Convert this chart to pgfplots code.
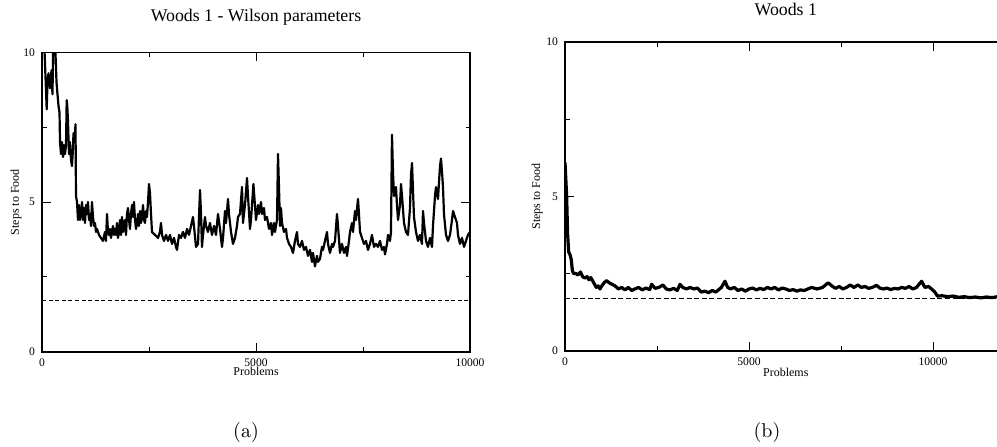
\documentclass[border=0pt]{standalone}
\usepackage{pgfplots}
\pgfplotsset{compat=1.18}
\usepackage{pgfplotstable}
\usepackage{fontspec}
\newfontfamily\tnr{Liberation Serif}

\pgfplotstableread{
x y
0 11
47 10.5
110 8.1
128 9.0
152 9.3
187 8.8
222 9.4
245 8.6
264 10.5
304 10.4
339 9.0
362 8.6
386 8.2
409 8.0
421 7.0
444 6.6
467 7.0
491 6.5
514 6.9
537 6.6
561 6.9
577 8.4
591 8.2
607 7.7
631 6.6
654 7.0
678 6.4
701 6.2
724 6.8
736 7.3
759 7.0
783 7.6
794 5.2
818 5.0
841 4.4
864 4.9
888 4.4
911 4.6
935 5.0
958 4.4
981 4.8
1005 4.3
1028 4.9
1051 4.6
1075 5.0
1098 4.4
1121 4.6
1145 4.2
1168 5.0
1192 4.5
1215 4.2
1238 4.3
1262 4.0
1285 4.1
1332 3.9
1378 3.8
1425 3.7
1472 4.0
1495 3.7
1519 4.6
1542 4.0
1565 3.9
1589 4.1
1612 3.8
1635 4.0
1659 4.2
1682 3.9
1706 4.1
1729 3.9
1752 4.3
1776 3.8
1799 4.0
1822 4.4
1846 3.9
1869 4.5
1892 4.0
1916 4.2
1939 4.4
1963 3.9
1986 4.6
2009 4.8
2033 4.4
2056 4.1
2079 4.6
2103 4.9
2126 4.5
2149 5.0
2173 4.4
2196 4.1
2220 4.3
2243 4.6
2266 4.2
2290 4.7
2313 4.3
2336 4.5
2360 4.9
2383 4.4
2406 4.3
2430 4.7
2453 4.5
2477 5.0
2500 5.6
2523 5.3
2547 4.6
2570 4.0
2640 3.9
2710 3.8
2757 4.0
2780 4.3
2804 3.9
2850 3.7
2897 3.9
2944 3.7
2991 3.9
3037 3.6
3084 3.8
3131 3.5
3154 3.4
3201 3.9
3248 3.8
3294 4.0
3341 3.8
3388 4.1
3435 3.9
3481 4.2
3528 4.5
3551 4.2
3598 3.5
3645 3.6
3668 4.5
3692 5.4
3715 4.6
3738 3.5
3762 3.9
3808 4.5
3832 4.2
3878 4.0
3925 4.3
3972 3.9
4019 4.2
4065 3.9
4112 4.6
4159 4.1
4206 3.5
4229 3.8
4276 4.7
4299 4.3
4346 5.1
4369 4.6
4416 4.0
4463 3.6
4509 3.8
4556 4.2
4579 4.5
4626 4.6
4673 5.5
4696 4.3
4743 4.9
4790 5.8
4813 5.2
4860 4.1
4883 4.4
4940 5.6
5000 4.4
5047 4.9
5070 4.6
5117 5.0
5140 4.6
5187 4.8
5210 4.4
5257 4.5
5304 4.1
5350 4.3
5374 3.9
5420 4.3
5444 4.0
5491 4.4
5514 6.6
5537 5.5
5561 4.2
5584 4.8
5607 4.3
5654 4.0
5701 4.1
5724 3.8
5771 3.6
5818 3.5
5864 3.3
5911 3.7
5958 4.0
5981 3.6
6028 3.5
6075 3.7
6121 3.4
6168 3.5
6215 3.2
6262 3.4
6308 3.0
6332 3.3
6378 2.85
6425 3.2
6448 3.0
6495 3.1
6542 3.5
6565 3.4
6612 3.7
6659 4.0
6682 3.6
6729 3.3
6776 3.6
6799 3.5
6846 3.7
6892 4.6
6916 4.2
6962 3.3
7009 3.6
7056 3.3
7103 3.5
7126 3.2
7173 3.7
7196 4.0
7243 4.3
7266 4.0
7313 4.7
7336 4.4
7383 5.1
7406 4.6
7430 4.0
7476 3.8
7523 3.6
7570 3.7
7617 3.4
7663 3.6
7710 3.9
7757 3.5
7804 3.6
7850 3.5
7897 3.7
7944 3.4
7990 3.5
8014 3.25
8061 3.6
8084 3.9
8131 3.7
8154 4.0
8177 7.25
8201 6.0
8224 5.2
8271 5.5
8294 4.9
8318 4.4
8364 4.9
8388 5.6
8411 5.2
8458 4.3
8504 4.0
8551 3.9
8598 4.8
8621 5.9
8645 6.3
8668 5.4
8691 4.5
8738 4.0
8785 3.7
8832 3.9
8878 3.6
8902 4.7
8925 4.3
8972 3.7
9018 3.5
9065 3.8
9112 3.5
9135 4.2
9182 5.2
9205 5.5
9252 5.1
9299 6.2
9322 6.45
9346 6.0
9369 5.5
9392 4.6
9439 3.9
9486 3.7
9533 3.9
9579 4.4
9603 4.7
9649 4.5
9696 4.3
9719 3.9
9766 3.6
9813 3.8
9860 3.5
9906 3.7
9953 3.9
10000 4.0
}\dataA

\pgfplotstableread{
x y
0 6.1
45 5.0
70 3.8
100 3.2
140 3.1
170 2.95
200 2.6
230 2.5
300 2.5
350 2.45
420 2.55
480 2.4
540 2.35
600 2.4
650 2.3
700 2.37
780 2.2
850 2.05
900 2.1
950 2.0
1000 2.1
1060 2.2
1130 2.27
1200 2.2
1280 2.15
1360 2.1
1450 2.0
1540 2.05
1630 1.97
1720 2.05
1810 1.95
1900 2.0
2000 2.05
2100 1.97
2200 2.03
2300 1.98
2355 2.15
2450 2.02
2550 2.05
2663 2.13
2750 2.0
2850 1.97
2950 2.02
3050 1.95
3125 2.15
3200 2.05
3300 2.0
3400 2.05
3500 2.0
3600 2.03
3700 1.9
3800 1.93
3900 1.88
4000 1.95
4100 1.9
4200 2.0
4250 2.05
4347 2.25
4420 2.05
4500 2.0
4600 2.05
4700 1.95
4800 2.0
4900 1.93
5000 2.0
5100 2.03
5200 1.97
5300 2.02
5400 1.98
5500 2.05
5600 2.0
5700 2.05
5800 1.97
5900 2.03
6000 2.0
6100 1.95
6200 1.98
6300 1.93
6400 1.97
6500 1.95
6600 2.0
6700 2.05
6850 2.0
7000 2.05
7150 2.2
7250 2.1
7350 2.02
7450 2.08
7550 2.0
7650 2.05
7750 2.13
7850 2.05
7960 2.13
8050 2.05
8150 2.08
8250 2.02
8350 2.05
8470 2.12
8550 2.03
8650 2.0
8750 2.03
8850 1.98
8950 2.02
9050 2.0
9150 2.05
9250 2.02
9350 2.08
9450 2.0
9550 2.05
9691 2.25
9780 2.05
9880 2.08
9980 1.98
10050 1.9
10120 1.77
10250 1.78
10400 1.75
10550 1.77
10700 1.73
10850 1.75
11000 1.72
11150 1.74
11300 1.71
11450 1.74
11600 1.72
11750 1.75
11900 1.73
12000 1.74
}\dataB

\begin{document}
\begin{tikzpicture}
\pgfplotsset{
  common/.style={
    scale only axis,
    anchor=south west,
    ymin=0, ymax=10,
    xtick={0,5000,10000}, minor xtick={2500,7500},
    ytick={0,5,10}, minor ytick={2.5,7.5},
    tick align=inside,
    major tick length=4.5pt, minor tick length=2.25pt,
    scaled x ticks=false,
    /pgf/number format/1000 sep={},
    /pgf/number format/assume math mode=true,
    tick label style={font=\tnr\fontsize{5.8}{6}\selectfont},
    label style={font=\tnr\fontsize{6}{7}\selectfont},
    title style={font=\tnr\fontsize{8.9}{10}\selectfont, anchor=center, yshift=-6pt},
    xlabel={Problems}, ylabel={Steps to Food},
    every tick/.style={black},
  }
}
\begin{axis}[common,
  at={(21pt,47.15pt)},
  width=214pt, height=149.7pt,
  xmin=0, xmax=10000,
  axis line style={line width=0.8pt},
  title={Woods 1 - Wilson parameters},
  title style={at={(axis description cs:0.5,1.117)}},
  xlabel style={at={(axis description cs:0.5,-0.067)}, anchor=center},
  ylabel style={at={(axis description cs:-0.061,0.5)}, anchor=center},
]
\addplot[black, line width=1.1pt, line join=round] table[x=x,y=y] {\dataA};
\addplot[black, line width=0.5pt, dash pattern=on 2pt off 1.3pt] coordinates {(0,1.72) (10000,1.72)};
\end{axis}

\begin{axis}[common,
  at={(282.5pt,47.65pt)},
  width=220.8pt, height=154.35pt,
  xmin=0, xmax=12000,
  axis line style={line width=1.2pt},
  title={Woods 1},
  title style={at={(axis description cs:0.5,1.107)}},
  xlabel style={at={(axis description cs:0.5,-0.071)}, anchor=center},
  ylabel style={at={(axis description cs:-0.063,0.5)}, anchor=center},
]
\addplot[black, line width=1.6pt, line join=round] table[x=x,y=y] {\dataB};
\addplot[black, line width=0.5pt, dash pattern=on 2.5pt off 1.3pt] coordinates {(0,1.7) (12000,1.7)};
\end{axis}

\node[font=\fontsize{10}{12}\selectfont] at (123pt,7pt) {(a)};
\node[font=\fontsize{10}{12}\selectfont] at (383.5pt,7pt) {(b)};

\pgfresetboundingbox
\path[use as bounding box] (0,0) rectangle (498.5pt,223pt);
\end{tikzpicture}
\end{document}
